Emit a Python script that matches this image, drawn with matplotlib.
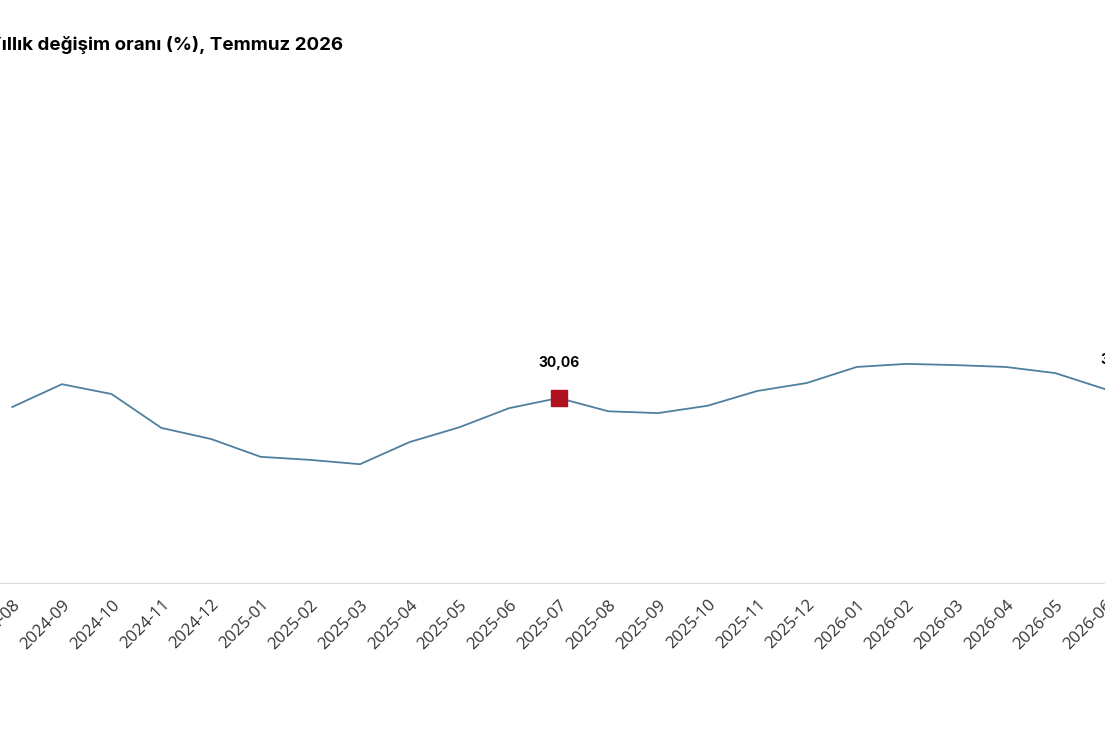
import matplotlib
matplotlib.use("Agg")
import matplotlib.pyplot as plt

plt.rcParams['font.family'] = ['Open Sans', 'DejaVu Sans']

months = ["2024-08", "2024-09", "2024-10", "2024-11", "2024-12", "2025-01", "2025-02",
          "2025-03", "2025-04", "2025-05", "2025-06", "2025-07", "2025-08", "2025-09",
          "2025-10", "2025-11", "2025-12", "2026-01", "2026-02", "2026-03", "2026-04",
          "2026-05", "2026-06"]
values = [28.6, 32.3, 30.7, 25.2, 23.4, 20.5, 20.0, 19.3, 22.9, 25.3, 28.4, 30.06,
          27.9, 27.6, 28.8, 31.2, 32.5, 35.1, 35.6, 35.4, 35.1, 34.1, 31.5]
highlight = "2025-07"
end_label = "31,52"

fig = plt.figure(figsize=(11.05, 7.37), dpi=100)
ax = fig.add_axes([0, 1 - 583 / 737, 1, (583 - 80) / 737])
x = list(range(len(months)))
ax.plot(x, values, color="#4f7f9f", lw=1.3)

hi = months.index(highlight)
ax.plot(hi, values[hi], marker="s", ms=12, color="#b0111e", mec="#b0111e")
ax.annotate(f"{values[hi]:.2f}".replace(".", ","), (hi, values[hi]), xytext=(0, 22),
            textcoords="offset points", ha="center", fontsize=10, fontweight="bold",
            family=["Inter", "DejaVu Sans"])
ax.annotate(end_label, (x[-1], values[-1]), xytext=(-3, 18), textcoords="offset points",
            ha="left", fontsize=10, fontweight="bold", family=["Inter", "DejaVu Sans"])

ax.set_xlim(-12.5 / 50.5, (1105 - 12.5) / 50.5)
ax.set_ylim(0, (583 - 80) / 6.155)
ax.set_xticks(x)
ax.set_xticklabels(months, rotation=45, ha="right", rotation_mode="anchor",
                   fontsize=12, color="#333333")
ax.tick_params(axis="x", length=0, pad=10)
ax.set_yticks([])
for s in ["top", "right", "left"]:
    ax.spines[s].set_visible(False)
ax.spines["bottom"].set_color("#dddddd")

fig.text(-0.011, 1 - 45 / 737, "Yıllık değişim oranı (%), Temmuz 2026",
         fontsize=13.5, fontweight="bold", va="center", family=["Inter", "DejaVu Sans"])

fig.savefig("out.png", dpi=100)
